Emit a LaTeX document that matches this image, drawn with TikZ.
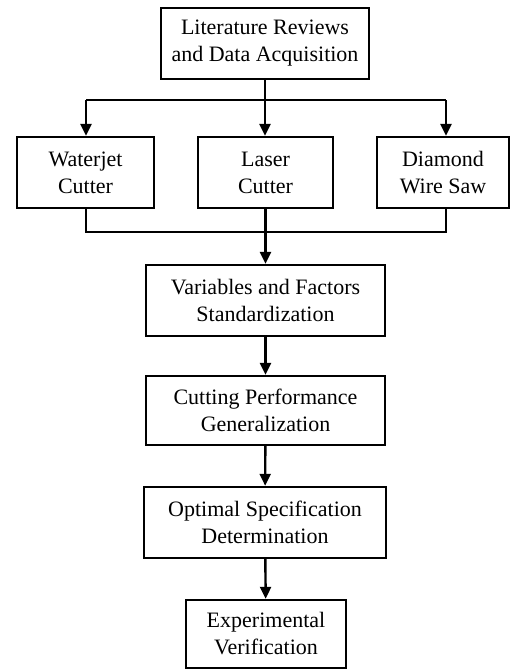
\documentclass[tikz,border=0pt]{standalone}
\usepackage{fontspec}
\setmainfont{Liberation Serif}
\usetikzlibrary{arrows.meta, positioning}

\begin{document}
\begin{tikzpicture}[x=0.5pt, y=-0.5pt, line width=1.2pt,
    >={Triangle[length=6pt, width=5.5pt]},
    box/.style={draw, rectangle, align=center, inner sep=2pt, minimum height=35.5pt,
        font=\fontsize{11}{13.5}\selectfont}]
    \useasboundingbox (0,0) rectangle (510,670);

    % boxes
    \node[box, minimum width=104pt] (lit) at (265,43.5) {Literature Reviews\\and Data Acquisition};
    \node[box, minimum width=68.5pt] (water) at (85.5,172.5) {Waterjet\\Cutter};
    \node[box, minimum width=67.5pt] (laser) at (265.5,172.5) {Laser\\Cutter};
    \node[box, minimum width=66pt] (diamond) at (443,172.5) {Diamond\\Wire Saw};
    \node[box, minimum width=119.5pt] (var) at (265.5,300.5) {Variables and Factors\\Standardization};
    \node[box, minimum width=119.5pt, minimum height=34.5pt] (cut) at (265.5,410.5) {Cutting Performance\\Generalization};
    \node[box, minimum width=121pt] (opt) at (265,522.5) {Optimal Specification\\Determination};
    \node[box, minimum width=80pt, minimum height=34pt] (exp) at (266,634) {Experimental\\Verification};

    % split to the three cutters
    \coordinate (split) at (265,100);
    \coordinate (sL) at (86,100);
    \coordinate (sR) at (446,100);
    \draw (lit.south) -- (split);
    \draw (sL) -- (sR);
    \draw[->] (sL) -- (sL |- water.north);
    \draw[->] (split) -- (split |- laser.north);
    \draw[->] (sR) -- (sR |- diamond.north);

    % join back
    \coordinate (jL) at (86,232);
    \coordinate (jR) at (446,232);
    \draw (jL |- water.south) -- (jL) -- (jR) -- (jR |- diamond.south);
    \draw[->] (laser.south) -- (var.north);

    % main chain
    \draw[->] (var) -- (cut);
    \draw[->] (cut) -- (opt);
    \draw[->] (opt) -- (exp);
\end{tikzpicture}
\end{document}
